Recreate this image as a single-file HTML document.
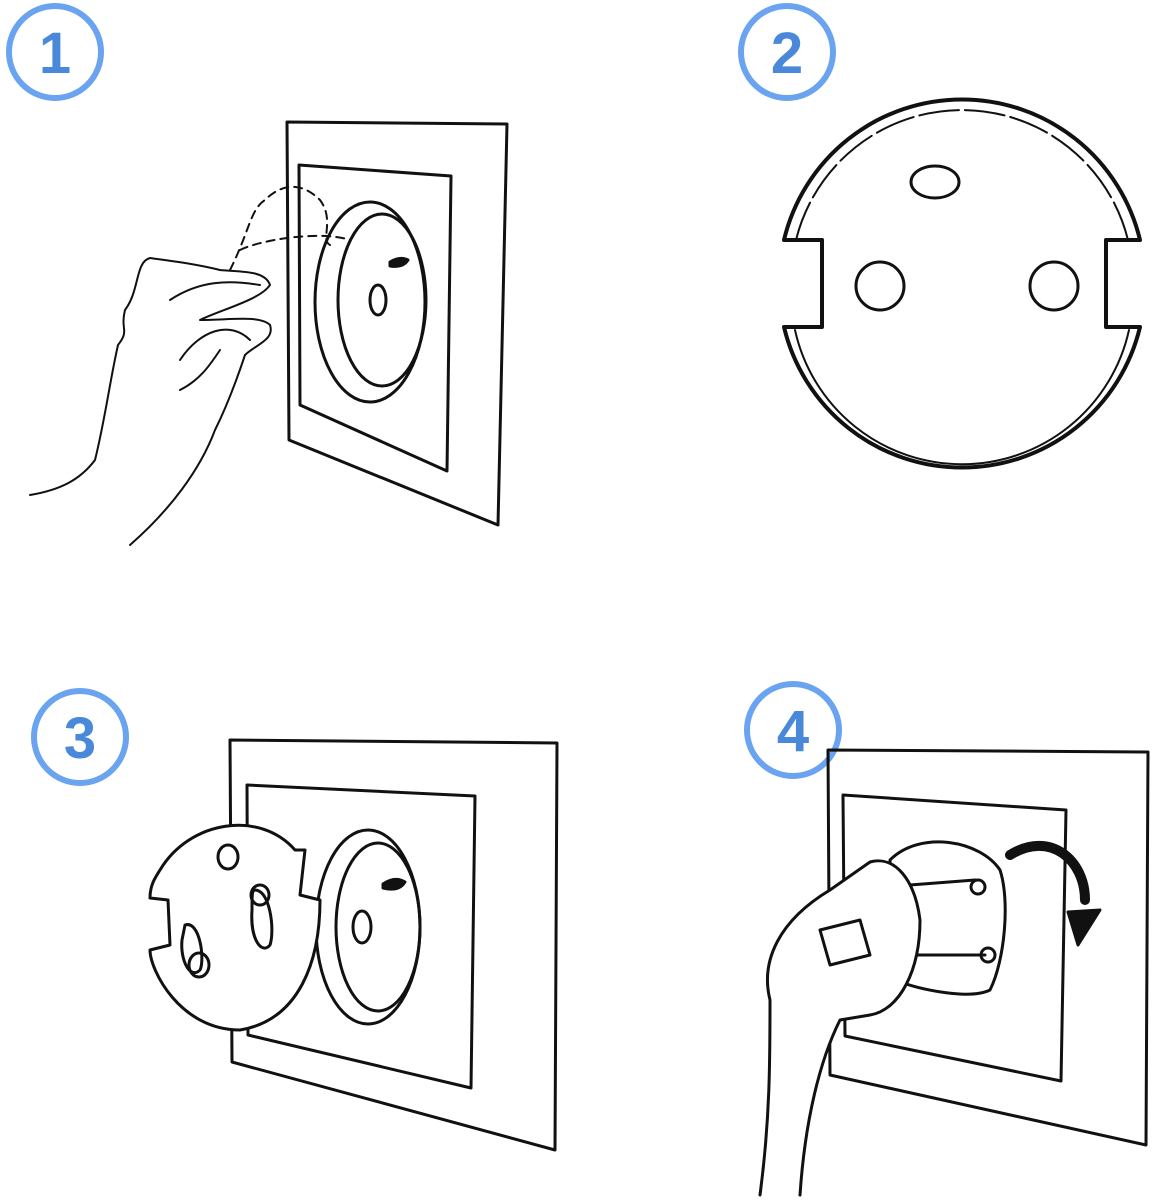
<!DOCTYPE html>
<html><head><meta charset="utf-8"><style>
html,body{margin:0;padding:0;background:#fff;}
svg{display:block}
.n{font-family:"Liberation Sans",sans-serif;font-weight:bold;font-size:58px;fill:#4a88da;text-anchor:middle}
</style></head><body>
<svg width="1155" height="1200" viewBox="0 0 1155 1200" xmlns="http://www.w3.org/2000/svg">
<g fill="none" stroke="#6aa3f0" stroke-width="6">
<circle cx="55" cy="52" r="46"/><circle cx="787" cy="52" r="46"/>
<circle cx="80" cy="737" r="46"/><circle cx="793" cy="730" r="46"/>
</g>
<text class="n" x="55" y="73">1</text><text class="n" x="787" y="73">2</text>
<text class="n" x="80" y="758">3</text><text class="n" x="793" y="751">4</text>

<g fill="none" stroke="#111" stroke-width="3" stroke-linejoin="round" stroke-linecap="round">
<!-- panel 1 -->
<path d="M287 122 L507 124 L498 525 L289 440 Z"/>
<path d="M299 165 L451 176 L447 471 L300 405 Z"/>
<ellipse cx="370" cy="302" rx="55" ry="100" fill="#fff"/>
<ellipse cx="382" cy="300" rx="44" ry="86"/>
<ellipse cx="378" cy="300" rx="8" ry="15"/>
<path d="M390 262 q10 -6 18 -2 q-5 8 -18 6z" fill="#111"/>
<path d="M130 545 C170 510 200 470 215 430 C230 400 240 370 245 355 C255 345 275 340 270 325 C260 315 230 320 200 320 C220 310 260 300 270 285 C265 270 240 272 220 270 C200 265 180 262 150 258 C135 262 140 290 125 310 C120 330 130 330 118 345 C110 380 105 420 95 460 C80 480 60 490 30 495" stroke-width="2"/>
<path d="M170 300 C200 280 230 280 260 285 M180 360 C200 330 230 320 250 340 M180 390 C200 380 210 365 220 350" stroke-width="2"/>
<path d="M230 270 C250 230 250 210 265 200 C280 185 300 180 320 200 C335 220 320 240 330 245 M240 250 C260 240 320 230 350 240" stroke-width="2" stroke-dasharray="8 6"/>

<!-- panel 2 -->
<path d="M784 240 A183 183 0 0 1 1140 240 L1106 240 L1106 327 L1140 327 A183 183 0 0 1 784 327 L822 327 L822 240 Z" stroke-width="4"/>
<path d="M795 330 A171 171 0 0 0 1129 330" stroke-width="2"/>
<path d="M796 240 A171 171 0 0 1 1128 240" stroke-width="2" stroke-dasharray="40 6"/>
<ellipse cx="935" cy="182" rx="24" ry="16"/>
<circle cx="880" cy="286" r="24"/><circle cx="1054" cy="286" r="24"/>

<!-- panel 3 -->
<path d="M230 740 L557 743 L555 1150 L232 1062 Z"/>
<path d="M247 785 L475 796 L471 1088 L248 1035 Z"/>
<ellipse cx="368" cy="927" rx="52" ry="97" fill="#fff"/>
<ellipse cx="378" cy="927" rx="42" ry="84"/>
<ellipse cx="362" cy="927" rx="9" ry="16"/>
<path d="M383 884 q12 -8 22 -2 q-6 10 -22 6z" fill="#111"/>
<path d="M160 870 C190 820 260 810 295 850 L305 850 L300 895 L320 900 C320 960 300 1020 240 1030 C180 1030 150 970 150 950 L170 945 L168 900 L150 898 C150 885 155 878 160 870 Z" fill="#fff"/>
<ellipse cx="228" cy="857" rx="10" ry="12"/>
<path d="M255 890 C270 890 275 930 270 945 C262 955 250 940 252 910 C252 895 252 890 255 890 Z"/>
<ellipse cx="260" cy="895" rx="9" ry="10"/>
<path d="M185 925 C200 920 205 960 200 970 C190 980 180 960 182 940 Z"/>
<ellipse cx="199" cy="965" rx="10" ry="12"/>

<!-- panel 4 -->
<path d="M828 750 L1148 752 L1146 1145 L830 1075 Z"/>
<path d="M843 795 L1066 810 L1061 1081 L845 1036 Z"/>
<path d="M890 860 C920 830 980 840 1000 870 C1010 900 1005 960 990 990 C970 1000 920 990 895 980 Z" fill="#fff"/>
<path d="M910 885 L975 880 M915 955 L985 955"/>
<circle cx="978" cy="887" r="7"/><circle cx="988" cy="955" r="7"/>
<path d="M760 1195 C770 1120 770 1060 770 1000 C760 960 780 920 830 890 L870 862 C895 855 915 880 920 920 C920 970 900 1010 870 1015 L840 1020 C820 1060 805 1120 800 1195" fill="#fff"/>
<path d="M820 930 L860 920 L870 955 L830 965 Z"/>
<path d="M1010 855 C1050 830 1085 860 1085 900" stroke-width="10"/>
<path d="M1068 912 L1100 910 L1078 945 Z" fill="#111"/>
</g>
</svg>
</body></html>
